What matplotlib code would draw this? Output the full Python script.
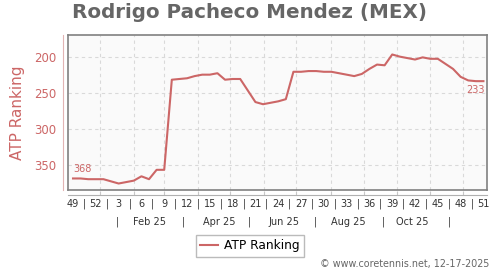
"""
ATP ranking history chart.
"""

import matplotlib
matplotlib.use("Agg")
import matplotlib.pyplot as plt


PLAYER = "Rodrigo Pacheco Mendez (MEX)"
SERIES_NAME = "ATP Ranking"
FOOTER = "\u00a9 www.coretennis.net, 12-17-2025"

# x = weeks counted from week 49 of 2024
week_index = list(range(55))

atp_rank = [
    368, 368, 369, 369, 369, 372, 375, 373, 371, 365,
    369, 356, 356, 231, 230, 229, 226, 224, 224, 222,
    231, 230, 230, 246, 262, 265, 263, 261, 258, 220,
    220, 219, 219, 220, 220, 222, 224, 226, 223, 216,
    210, 211, 196, 199, 201, 203, 200, 202, 202, 209,
    216, 227, 232, 233, 233,
]

week_tick_pos = list(range(0, 55, 3))
week_tick_labels = [
    "49", "52", "3", "6", "9", "12", "15", "18", "21", "24",
    "27", "30", "33", "36", "39", "42", "45", "48", "51",
]

# month starts (Jan 25 .. Dec 25) in week units
month_grid_pos = [3.6, 8.0, 12.0, 16.4, 20.7, 25.1, 29.4, 33.9, 38.3, 42.6, 47.0, 51.3]

month_labels = ["Feb 25", "Apr 25", "Jun 25", "Aug 25", "Oct 25"]
month_label_pos = [10.1, 19.2, 27.8, 36.2, 44.7]
month_sep_pos = [5.9, 14.5, 23.2, 31.9, 40.8, 49.5]

y_ticks = [200, 250, 300, 350]

RED = "#cc6666"
GRAY_TEXT = "#666666"


def plot_ranking():
    """
    Draw the ranking line chart and save it.
    """

    fig = plt.figure(figsize=(5, 2.7), dpi=100)

    ax = fig.add_axes([0.136, 0.2963, 0.838, 0.574])
    ax.set_facecolor("#fafafa")

    ax.plot(week_index, atp_rank, color=RED, linewidth=1.5,
            label=SERIES_NAME, solid_joinstyle="round")

    ax.set_xlim(-0.66, 54.47)
    ax.set_ylim(384, 169)

    for side in ["top", "bottom", "left", "right"]:
        ax.spines[side].set_color("#808080")
        ax.spines[side].set_linewidth(1.2)

    ax.set_yticks(y_ticks)
    ax.set_xticks(month_grid_pos)
    ax.tick_params(left=False, bottom=False, labelleft=False, labelbottom=False)
    ax.grid(True, color="#d9d9d9", linestyle=(0, (3, 3)), linewidth=0.8)

    # first / last values
    ax.annotate(str(atp_rank[0]), (week_index[0], atp_rank[0]),
                xytext=(0, 4), textcoords="offset pixels",
                ha="left", va="bottom", fontsize=7, color=RED)
    ax.annotate(str(atp_rank[-1]), (week_index[-1], atp_rank[-1]),
                xytext=(1, -4), textcoords="offset pixels",
                ha="right", va="top", fontsize=7, color=RED)

    # y axis with its own line, left of the box
    yax = ax.secondary_yaxis(-0.012)
    yax.set_yticks(y_ticks)
    yax.spines["left"].set_color("#e2b4b4")
    yax.tick_params(axis="y", length=0, pad=5, labelsize=8.5, labelcolor=RED)
    yax.set_ylabel(SERIES_NAME, color=RED, fontsize=11, labelpad=6)

    # x axis line below the box
    xax = ax.secondary_xaxis(-0.032)
    xax.spines["bottom"].set_color("#b0b0b0")
    xax.set_xticks(month_grid_pos)
    xax.tick_params(axis="x", direction="in", length=3, color="#c8c8c8",
                    labelbottom=False)

    trans = ax.get_xaxis_transform()
    for pos, lab in zip(week_tick_pos, week_tick_labels):
        ax.text(pos, -0.09, lab, transform=trans, ha="center", va="center",
                fontsize=7, color="#333333")
    for pos in week_tick_pos[:-1]:
        ax.text(pos + 1.5, -0.09, "|", transform=trans, ha="center",
                va="center", fontsize=7, color="#333333")

    for pos, lab in zip(month_label_pos, month_labels):
        ax.text(pos, -0.206, lab, transform=trans, ha="center", va="center",
                fontsize=7, color="#333333")
    for pos in month_sep_pos:
        ax.text(pos, -0.206, "|", transform=trans, ha="center", va="center",
                fontsize=7, color="#333333")

    fig.text(0.5, 0.955, PLAYER, ha="center", va="center",
             fontsize=14.3, fontweight="bold", color=GRAY_TEXT)

    fig.legend(loc="center", bbox_to_anchor=(0.5, 0.089), fontsize=8.8,
               frameon=True, fancybox=False, edgecolor="#aaaaaa",
               handlelength=1.5, handletextpad=0.5, borderpad=0.35)

    fig.text(0.978, 0.022, FOOTER, ha="right", va="center",
             fontsize=6.9, color=GRAY_TEXT)

    fig.savefig("out.png", dpi=100)


if __name__ == "__main__":
    plot_ranking()
